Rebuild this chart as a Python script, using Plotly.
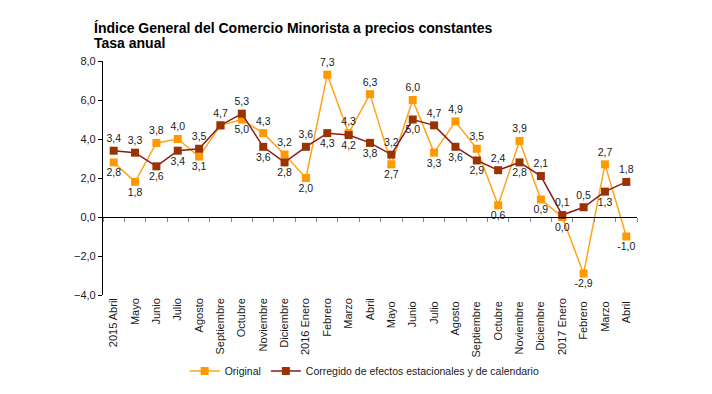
import plotly.graph_objects as go

months = ["2015 Abril", "Mayo", "Junio", "Julio", "Agosto", "Septiembre", "Octubre",
          "Noviembre", "Diciembre", "2016 Enero", "Febrero", "Marzo", "Abril", "Mayo ",
          "Junio ", "Julio ", "Agosto ", "Septiembre ", "Octubre ", "Noviembre ",
          "Diciembre ", "2017 Enero", "Febrero ", "Marzo ", "Abril "]
original = [2.8, 1.8, 3.8, 4.0, 3.1, 4.7, 5.0, 4.3, 3.2, 2.0, 7.3, 4.3, 6.3, 2.7, 6.0,
            3.3, 4.9, 3.5, 0.6, 3.9, 0.9, 0.0, -2.9, 2.7, -1.0]
corregido = [3.4, 3.3, 2.6, 3.4, 3.5, 4.7, 5.3, 3.6, 2.8, 3.6, 4.3, 4.2, 3.8, 3.2, 5.0,
             4.7, 3.6, 2.9, 2.4, 2.8, 2.1, 0.1, 0.5, 1.3, 1.8]
y_ticks = [-4, -2, 0, 2, 4, 6, 8]
title_lines = ["Índice General del Comercio Minorista a precios constantes", "Tasa anual"]

def fmt(v):
    return f"{v:.1f}".replace(".", ",")

orig_text, orig_pos, corr_text, corr_pos = [], [], [], []
for o, c in zip(original, corregido):
    if o == c:
        orig_text.append("")
        corr_text.append(fmt(c))
        orig_pos.append("bottom center")
        corr_pos.append("top center")
    elif o > c:
        orig_text.append(fmt(o)); orig_pos.append("top center")
        corr_text.append(fmt(c)); corr_pos.append("bottom center")
    else:
        orig_text.append(fmt(o)); orig_pos.append("bottom center")
        corr_text.append(fmt(c)); corr_pos.append("top center")

FONT = "Liberation Sans, Arial, sans-serif"

fig = go.Figure()
fig.add_trace(go.Scatter(
    x=months, y=original, name="Original", mode="lines+markers+text",
    line=dict(color="#FFA31A", width=1.5),
    marker=dict(symbol="square", size=8, color="#FF9900"),
    text=orig_text, textposition=orig_pos, cliponaxis=False,
    textfont=dict(family=FONT, size=10.5, color="#1a1a1a"),
))
fig.add_trace(go.Scatter(
    x=months, y=corregido, name="Corregido de efectos estacionales y de calendario",
    mode="lines+markers+text",
    line=dict(color="#8B1A1A", width=1.5),
    marker=dict(symbol="square", size=8, color="#993300"),
    text=corr_text, textposition=corr_pos, cliponaxis=False,
    textfont=dict(family=FONT, size=10.5, color="#1a1a1a"),
))
# dummy trace for the zero-crossing category axis
fig.add_trace(go.Scatter(x=months, y=[None] * len(months), xaxis="x2", yaxis="y",
                         showlegend=False, hoverinfo="skip", mode="lines"))

# page body has an 8px default margin: figure is 704x386 placed at (8, 8)
fig.update_layout(
    width=704, height=386,
    margin=dict(l=95, r=75, t=53, b=99, autoexpand=False),
    paper_bgcolor="white", plot_bgcolor="white",
    separators=",.",
    font=dict(family=FONT, size=10, color="#1a1a1a"),
    xaxis=dict(
        type="category", range=[-0.5, len(months) - 0.5], automargin=False,
        showline=False, ticks="", showgrid=False, zeroline=False,
        tickangle=-90, tickfont=dict(family=FONT, size=11, color="#1a1a1a"),
    ),
    xaxis2=dict(
        type="category", overlaying="x", anchor="free", automargin=False,
        position=(0 - y_ticks[0]) / (y_ticks[-1] - y_ticks[0]),
        range=[-0.5, len(months) - 0.5],
        showline=True, linecolor="black", linewidth=1.2,
        ticks="outside", tickson="boundaries", ticklen=4, tickcolor="#888888",
        showticklabels=False, showgrid=False, zeroline=False,
    ),
    yaxis=dict(
        range=[y_ticks[0], y_ticks[-1]], tickvals=y_ticks, tickformat=".1f",
        automargin=False,
        showline=True, linecolor="black", linewidth=1.2,
        ticks="outside", ticklen=4, tickcolor="black",
        showgrid=False, zeroline=False,
        tickfont=dict(family=FONT, size=11, color="#1a1a1a"),
    ),
    legend=dict(
        orientation="h", x=0.49, xanchor="center", y=-0.325, yanchor="middle",
        font=dict(family=FONT, size=10.5, color="#1a1a1a"),
        itemwidth=30, tracegroupgap=0,
    ),
    showlegend=True,
    annotations=[
        dict(text=f"<b>{title_lines[0]}</b>", xref="paper", yref="paper",
             x=-0.0206, y=1.141, xanchor="left", yanchor="middle", showarrow=False,
             font=dict(family=FONT, size=14, color="#000000")),
        dict(text=f"<b>{title_lines[1]}</b>", xref="paper", yref="paper",
             x=-0.0206, y=1.077, xanchor="left", yanchor="middle", showarrow=False,
             font=dict(family=FONT, size=14, color="#000000")),
    ],
)

fig.write_html("out.html")
